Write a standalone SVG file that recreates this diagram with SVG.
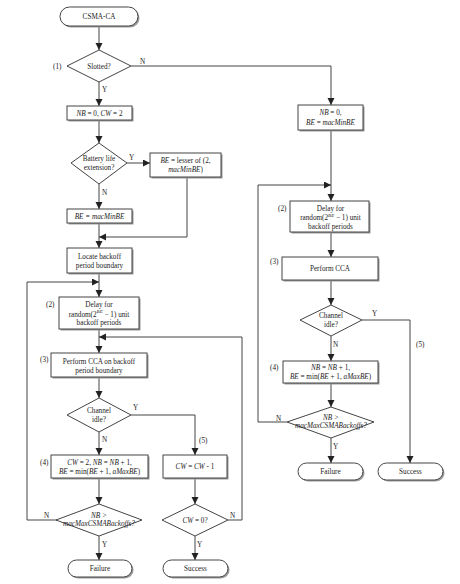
<svg xmlns="http://www.w3.org/2000/svg" width="460" height="584" viewBox="0 0 460 584">
<style>
text{font-family:"Liberation Serif","Times New Roman",serif;font-size:7.2px;fill:#222;text-anchor:middle}
.l{text-anchor:start}
i,.i{font-style:italic}
.box{fill:#fff;stroke:#444;stroke-width:1}
.sh{fill:#9a9a9a}
.dia{fill:#fff;stroke:#444;stroke-width:1}
.c{fill:none;stroke:#444;stroke-width:1}
.a{marker-end:url(#ah)}
.sup{font-size:5px}
</style>
<defs>
<marker id="ah" markerUnits="userSpaceOnUse" markerWidth="8" markerHeight="8" refX="7" refY="3.5" orient="auto">
<path d="M0,0 L7,3.5 L0,7 Z" fill="#222"/>
</marker>
</defs>
<rect width="460" height="584" fill="#fff"/>

<g id="connectors">
<path class="c a" d="M99,26 V50"/>
<path class="c a" d="M131,66 H331 V105"/>
<path class="c a" d="M99,82 V106"/>
<path class="c a" d="M99,120 V143"/>
<path class="c a" d="M127,163 H150"/>
<path class="c a" d="M187,177 V237 H99"/>
<path class="c a" d="M99,184 V209"/>
<path class="c a" d="M99,223 V248"/>
<path class="c a" d="M99,273 V297"/>
<path class="c a" d="M57,520 H27 V282 H99"/>
<path class="c a" d="M99,329 V353"/>
<path class="c a" d="M228,520 H242 V337 H99"/>
<path class="c a" d="M99,377 V398"/>
<path class="c a" d="M131,415 H195 V455"/>
<path class="c a" d="M99,432 V455"/>
<path class="c a" d="M99,478 V504"/>
<path class="c a" d="M99,536 V560"/>
<path class="c a" d="M195,478 V504"/>
<path class="c a" d="M195,536 V560"/>
<path class="c a" d="M331,130 V201"/>
<path class="c a" d="M287,422 H258 V185 H331"/>
<path class="c a" d="M331,232 V257"/>
<path class="c a" d="M331,280 V305"/>
<path class="c a" d="M362,320 H410 V463"/>
<path class="c a" d="M331,336 V361"/>
<path class="c a" d="M331,383 V407"/>
<path class="c a" d="M331,438 V463"/>
<text class="l" x="140" y="64">N</text>
<text class="l" x="102" y="92">Y</text>
<text class="l" x="129" y="160">Y</text>
<text class="l" x="102" y="195">N</text>
<text class="l" x="133" y="410">Y</text>
<text class="l" x="102" y="442">N</text>
<text class="l" x="199" y="443">(5)</text>
<text class="l" x="44" y="518">N</text>
<text class="l" x="230" y="518">N</text>
<text class="l" x="102" y="547">Y</text>
<text class="l" x="197" y="547">Y</text>
<text class="l" x="372" y="316">Y</text>
<text class="l" x="333" y="347">N</text>
<text class="l" x="416" y="347">(5)</text>
<text class="l" x="276" y="421">N</text>
<text class="l" x="333" y="449">Y</text>
</g>

<g id="start">
<rect class="sh" x="61.5" y="8.5" width="78" height="19" rx="9.5"/>
<rect class="box" x="60" y="7" width="78" height="19" rx="9.5"/>
<text x="99" y="19">CSMA-CA</text>
</g>

<g id="slotted">
<polygon class="dia" points="99,50 131,66 99,82 67,66"/>
<text x="99" y="68.5">Slotted?</text>
<text class="l" x="53" y="68.5">(1)</text>
</g>

<g id="init-slotted">
<rect class="sh" x="68.5" y="107.5" width="65" height="14"/>
<rect class="box" x="67" y="106" width="65" height="14"/>
<text x="99.5" y="115.5"><tspan class="i">NB</tspan> = 0, <tspan class="i">CW</tspan> = 2</text>
</g>

<g id="battery">
<polygon class="dia" points="99,143 127,163 99,184 71,163"/>
<text x="99" y="161">Battery life</text>
<text x="99" y="169.5">extension?</text>
</g>

<g id="be-lesser">
<rect class="sh" x="151.5" y="154.5" width="71" height="24"/>
<rect class="box" x="150" y="153" width="71" height="24"/>
<text x="185.5" y="163"><tspan class="i">BE</tspan> = lesser of (2,</text>
<text x="185.5" y="172"><tspan class="i">macMinBE</tspan>)</text>
</g>

<g id="be-min">
<rect class="sh" x="68.5" y="210.5" width="65" height="14"/>
<rect class="box" x="67" y="209" width="65" height="14"/>
<text x="99.5" y="218.5" class="i">BE = macMinBE</text>
</g>

<g id="locate">
<rect class="sh" x="68.5" y="249.5" width="65" height="25"/>
<rect class="box" x="67" y="248" width="65" height="25"/>
<text x="99.5" y="258.5">Locate backoff</text>
<text x="99.5" y="267.5">period boundary</text>
</g>

<g id="delay-slotted">
<rect class="sh" x="60.5" y="298.5" width="80" height="32"/>
<rect class="box" x="59" y="297" width="80" height="32"/>
<text class="l" x="46" y="307">(2)</text>
<text x="99" y="307">Delay for</text>
<text x="99" y="316.5">random(2<tspan class="sup i" dy="-3.5">BE</tspan><tspan dy="3.5"> − 1) unit</tspan></text>
<text x="99" y="325">backoff periods</text>
</g>

<g id="cca-slotted">
<rect class="sh" x="52.5" y="354.5" width="96" height="24"/>
<rect class="box" x="51" y="353" width="96" height="24"/>
<text class="l" x="40" y="362">(3)</text>
<text x="99" y="363.5">Perform CCA on backoff</text>
<text x="99" y="372.5">period boundary</text>
</g>

<g id="idle-slotted">
<polygon class="dia" points="99,398 131,415 99,432 67,415"/>
<text x="99" y="413">Channel</text>
<text x="99" y="422">idle?</text>
</g>

<g id="update-slotted">
<rect class="sh" x="52.5" y="456.5" width="97" height="23"/>
<rect class="box" x="51" y="455" width="97" height="23"/>
<text class="l" x="40" y="465">(4)</text>
<text x="99.5" y="464.5"><tspan class="i">CW</tspan> = 2, <tspan class="i">NB</tspan> = <tspan class="i">NB</tspan> + 1,</text>
<text x="99.5" y="473.5"><tspan class="i">BE</tspan> = min(<tspan class="i">BE</tspan> + 1, <tspan class="i">aMaxBE</tspan>)</text>
</g>

<g id="nb-slotted">
<polygon class="dia" points="99,504 142,520 99,536 56,520"/>
<text x="99" y="517.5" class="i">NB &gt;</text>
<text x="99" y="526" class="i">macMaxCSMABackoffs?</text>
</g>

<g id="fail-slotted">
<rect class="sh" x="69.5" y="561.5" width="64" height="17" rx="8.5"/>
<rect class="box" x="68" y="560" width="64" height="17" rx="8.5"/>
<text x="100" y="571">Failure</text>
</g>

<g id="cw-dec">
<rect class="sh" x="164.5" y="456.5" width="64" height="23"/>
<rect class="box" x="163" y="455" width="64" height="23"/>
<text x="195" y="469"><tspan class="i">CW</tspan> = <tspan class="i">CW</tspan> - 1</text>
</g>

<g id="cw-zero">
<polygon class="dia" points="195,504 228,520 195,536 162,520"/>
<text x="195" y="522.5"><tspan class="i">CW</tspan> = 0?</text>
</g>

<g id="success-slotted">
<rect class="sh" x="164.5" y="561.5" width="65" height="17" rx="8.5"/>
<rect class="box" x="163" y="560" width="65" height="17" rx="8.5"/>
<text x="195.5" y="571">Success</text>
</g>

<g id="init-unslotted">
<rect class="sh" x="299.5" y="106.5" width="65" height="25"/>
<rect class="box" x="298" y="105" width="65" height="25"/>
<text x="330.5" y="115"><tspan class="i">NB</tspan> = 0,</text>
<text x="330.5" y="124.5"><tspan class="i">BE</tspan> = <tspan class="i">macMinBE</tspan></text>
</g>

<g id="delay-unslotted">
<rect class="sh" x="291.5" y="202.5" width="79" height="31"/>
<rect class="box" x="290" y="201" width="79" height="31"/>
<text class="l" x="278" y="211">(2)</text>
<text x="330.5" y="211">Delay for</text>
<text x="330.5" y="220">random(2<tspan class="sup i" dy="-3.5">BE</tspan><tspan dy="3.5"> − 1) unit</tspan></text>
<text x="330.5" y="228.5">backoff periods</text>
</g>

<g id="cca-unslotted">
<rect class="sh" x="283.5" y="258.5" width="96" height="23"/>
<rect class="box" x="282" y="257" width="96" height="23"/>
<text class="l" x="270" y="264">(3)</text>
<text x="330" y="271">Perform CCA</text>
</g>

<g id="idle-unslotted">
<polygon class="dia" points="331,305 362,320 331,336 300,320"/>
<text x="331" y="318">Channel</text>
<text x="331" y="327">idle?</text>
</g>

<g id="update-unslotted">
<rect class="sh" x="284.5" y="362.5" width="95" height="22"/>
<rect class="box" x="283" y="361" width="95" height="22"/>
<text class="l" x="270" y="370">(4)</text>
<text x="330.5" y="370"><tspan class="i">NB</tspan> = <tspan class="i">NB</tspan> + 1,</text>
<text x="330.5" y="379"><tspan class="i">BE</tspan> = min(<tspan class="i">BE</tspan> + 1, <tspan class="i">aMaxBE</tspan>)</text>
</g>

<g id="nb-unslotted">
<polygon class="dia" points="331,407 374,422 331,438 287,422"/>
<text x="331" y="419.5" class="i">NB &gt;</text>
<text x="331" y="428" class="i">macMaxCSMABackoffs?</text>
</g>

<g id="fail-unslotted">
<rect class="sh" x="299.5" y="464.5" width="65" height="17" rx="8.5"/>
<rect class="box" x="298" y="463" width="65" height="17" rx="8.5"/>
<text x="330.5" y="474">Failure</text>
</g>

<g id="success-unslotted">
<rect class="sh" x="379.5" y="464.5" width="65" height="17" rx="8.5"/>
<rect class="box" x="378" y="463" width="65" height="17" rx="8.5"/>
<text x="410.5" y="474">Success</text>
</g>
</svg>
